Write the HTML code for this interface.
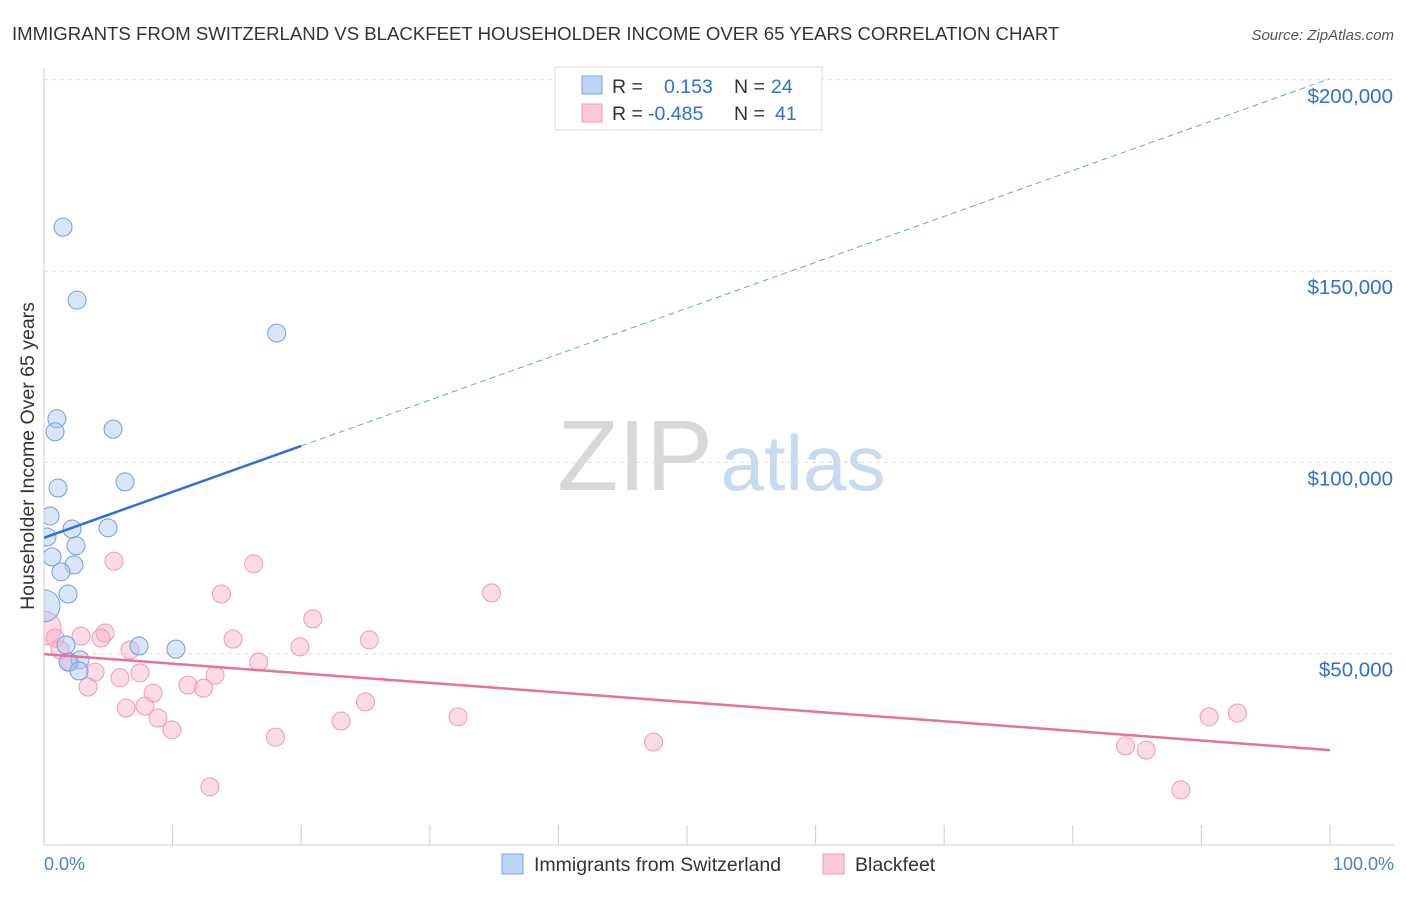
<!DOCTYPE html>
<html><head><meta charset="utf-8"><style>
body{margin:0;background:#fff;font-family:"Liberation Sans",sans-serif;}
svg text{font-family:"Liberation Sans",sans-serif;}
</style></head><body>
<svg id="c" width="1406" height="892" xmlns="http://www.w3.org/2000/svg">
<defs><clipPath id="pc"><rect x="44" y="60" width="1360" height="785"/></clipPath></defs>
<text x="12" y="40" font-size="18.6" fill="#333">IMMIGRANTS FROM SWITZERLAND VS BLACKFEET HOUSEHOLDER INCOME OVER 65 YEARS CORRELATION CHART</text>
<text x="1394" y="40" font-size="15" fill="#555" font-style="italic" text-anchor="end">Source: ZipAtlas.com</text>
<text x="635" y="490" font-size="100" fill="#d8d8d8" font-family="Liberation Serif" text-anchor="middle">ZIP</text>
<text x="803" y="490" font-size="78" fill="#c9daf0" text-anchor="middle">atlas</text>
<g id="grid"></g>
<line x1="44" y1="68" x2="44" y2="845" stroke="#ccc"/>
<line x1="44" y1="845" x2="1394" y2="845" stroke="#ccc"/>
<text x="34" y="456" font-size="19.5" fill="#333" text-anchor="middle" transform="rotate(-90 34 456)">Householder Income Over 65 years</text>
<text x="44" y="870" font-size="18" fill="#4a7fd4">0.0%</text>
<text x="1394" y="870" font-size="18" fill="#4a7fd4" text-anchor="end">100.0%</text>
<g id="marks" clip-path="url(#pc)"></g>
<g>
<rect x="555" y="67" width="267" height="63" fill="#fff" stroke="#ddd"/>
<rect x="582" y="76" width="20" height="18" fill="#bcd4f5" stroke="#7aa6e6"/>
<rect x="582" y="104" width="20" height="18" fill="#f9c9d8" stroke="#f09ab5"/>
<text x="612" y="93" font-size="19.5" fill="#333">R =</text><text x="664" y="93" font-size="19.5" fill="#2f6fd6">0.153</text>
<text x="734" y="93" font-size="19.5" fill="#333">N =</text><text x="771" y="93" font-size="19.5" fill="#2f6fd6">24</text>
<text x="612" y="120" font-size="19.5" fill="#333">R =</text><text x="648" y="120" font-size="19.5" fill="#2f6fd6">-0.485</text>
<text x="734" y="120" font-size="19.5" fill="#333">N =</text><text x="775" y="120" font-size="19.5" fill="#2f6fd6">41</text>
</g>
<g>
<rect x="502" y="854" width="21" height="20" fill="#bcd4f5" stroke="#7aa6e6"/>
<text x="534" y="871" font-size="19.5" fill="#333">Immigrants from Switzerland</text>
<rect x="823" y="854" width="21" height="20" fill="#f9c9d8" stroke="#f09ab5"/>
<text x="855" y="871" font-size="19.5" fill="#333">Blackfeet</text>
</g>
</svg>
<script>
const yTicks=[50,100,150,200];
const yTickLabels=["$50,000","$100,000","$150,000","$200,000"];
const blueX=[1.48,2.57,18.1,1.0,0.86,5.37,6.3,1.09,0.47,2.18,4.98,0.23,2.49,0.62,2.33,1.32,1.87,0,1.71,7.39,10.26,2.8,1.87,2.72];
const blueY=[161.5,142.4,133.8,111.4,108.0,108.7,94.9,93.3,86.0,82.6,82.9,80.5,78.2,75.3,73.2,71.4,65.6,62.5,52.3,52.0,51.2,48.4,47.8,45.5];
const pinkX=[0,0.86,1.24,2.88,4.74,4.43,5.44,16.3,13.8,34.8,20.9,25.3,14.7,19.9,6.69,2.02,3.97,5.91,7.47,16.7,13.3,3.42,8.48,11.2,12.4,6.38,7.85,8.86,9.95,25.0,23.1,32.2,18.0,47.4,90.6,92.8,84.1,85.7,12.9,88.4];
const pinkY=[56.7,54.1,51.0,54.6,55.4,54.1,74.2,73.5,65.6,65.9,59.1,53.6,53.8,51.8,51.0,47.8,45.2,43.7,45.0,47.8,44.4,41.3,39.7,41.8,41.0,35.8,36.3,33.2,30.1,37.4,32.4,33.5,28.2,26.9,33.5,34.5,25.9,24.8,15.2,14.4];
const blueTrend=[80.3,200.3];
const pinkTrend=[49.9,24.8];
const NS="http://www.w3.org/2000/svg";
const X=p=>44+p*12.86, Y=v=>845-v*3.826;
function mk(t,a,p){const e=document.createElementNS(NS,t);for(const k in a)e.setAttribute(k,a[k]);p.appendChild(e);return e;}
const g=document.getElementById('grid'),m=document.getElementById('marks');
yTicks.forEach((v,i)=>{
 const l=mk('line',{x1:44,x2:1394,y1:Y(v),y2:Y(v),stroke:'#ddd','stroke-dasharray':'4 4'},g);
 
 
 const t=mk('text',{x:1393,y:Y(v)+23,'font-size':20.5,fill:'#2f6fd6','text-anchor':'end'},g);
 t.textContent=yTickLabels[i];
 
 
});
for(let i=1;i<=10;i++){const l=mk('line',{x1:X(i*10),x2:X(i*10),y1:825,y2:845,stroke:'#ccc'},g);
 
 }
pinkX.forEach((x,i)=>{const c=mk('circle',{cx:X(x),cy:Y(pinkY[i]),r:i==0?17:9,fill:'rgba(246,176,200,0.45)',stroke:'#ee9ab6','stroke-width':1},m);
 
 });
blueX.forEach((x,i)=>{const c=mk('circle',{cx:X(x),cy:Y(blueY[i]),r:blueY[i]==62.5?16:9,fill:'rgba(170,200,240,0.45)',stroke:'#6e9ee0','stroke-width':1},m);
 
 });
const by=p=>blueTrend[0]+(blueTrend[1]-blueTrend[0])*p/100;
let l=mk('line',{x1:X(0),y1:Y(by(0)),x2:X(20),y2:Y(by(20)),stroke:'#2f6fd6','stroke-width':2.5},m);


l=mk('line',{x1:X(20),y1:Y(by(20)),x2:X(100),y2:Y(by(100)),stroke:'#6e9ee0','stroke-width':1,'stroke-dasharray':'6 4'},m);


l=mk('line',{x1:X(0),y1:Y(pinkTrend[0]),x2:X(100),y2:Y(pinkTrend[1]),stroke:'#e8719b','stroke-width':2.5},m);


</script>
</body></html>
